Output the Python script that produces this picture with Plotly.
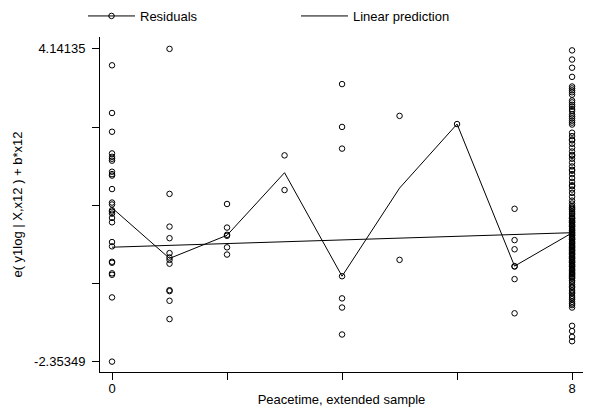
import plotly.graph_objects as go

# ---------------- data ----------------
x_tickvals = [0, 2, 4, 6, 8]
x_ticktext = ["0", "", "", "", "8"]
y_tickvals = [4.14135, 2.51764, 0.89393, -0.72978, -2.35349]
y_ticktext = ["4.14135", "", "", "", "-2.35349"]

group_x = [0, 1, 2, 3, 4, 5, 6, 7, 8]

resid_0 = [3.80, 2.81, 2.42, 1.97, 1.90, 1.86, 1.82, 1.59, 1.54, 1.51, 1.23,
           0.95, 0.91, 0.79, 0.76, 0.72, 0.63, 0.54, 0.13, 0.04, -0.28, -0.30,
           -0.52, -0.55, -1.02, -2.35349]
resid_1 = [4.14135, 1.13, 0.45, 0.21, -0.10, -0.19, -0.24, -0.32, -0.87, -0.89,
           -1.09, -1.47]
resid_2 = [0.92, 0.43, 0.28, 0.26, 0.02, -0.13]
resid_3 = [1.93, 1.21]
resid_4 = [3.41, 2.52, 2.07, -0.58, -1.04, -1.23, -1.79]
resid_5 = [2.75, -0.24]
resid_6 = [2.58]
resid_7 = [0.82, 0.17, -0.02, -0.37, -0.38, -0.64, -1.35]
resid_8 = [4.11, 3.92, 3.75, 3.56,
           3.36, 3.32, 3.28, 3.24, 3.19,
           3.07, 3.03, 2.98, 2.94, 2.89, 2.85,
           2.78, 2.74, 2.70, 2.65, 2.61, 2.57,
           2.40, 2.33, 2.26, 2.24, 2.17, 2.09, 2.01, 1.94, 1.92, 1.86, 1.78,
           1.70, 1.63, 1.61, 1.54, 1.46, 1.38, 1.31, 1.29, 1.22, 1.15, 1.07,
           0.99, 0.93,
           0.88, 0.85, 0.82, 0.80, 0.76, 0.73, 0.71, 0.67,
           0.64, 0.62, 0.61, 0.58, 0.56, 0.54, 0.53, 0.50, 0.48, 0.46, 0.45,
           0.42, 0.40, 0.38, 0.37, 0.34, 0.33, 0.31, 0.29, 0.27, 0.26, 0.23,
           0.21, 0.19, 0.18, 0.15, 0.13, 0.11, 0.10, 0.07, 0.05, 0.03, 0.02,
           -0.01, -0.03, -0.05, -0.06, -0.09, -0.11, -0.13, -0.14, -0.17,
           -0.19, -0.21, -0.22, -0.25, -0.27, -0.29, -0.30, -0.33, -0.35,
           -0.37, -0.38, -0.41, -0.43, -0.45, -0.46, -0.49, -0.51, -0.53,
           -0.54, -0.57, -0.59, -0.61, -0.63,
           -0.67, -0.70, -0.75, -0.79, -0.82, -0.87, -0.91, -0.94, -0.99,
           -1.03, -1.06, -1.11, -1.15, -1.18, -1.23,
           -1.61, -1.72, -1.84, -1.93]

# median band through the residuals (vertices)
band_y = [0.84, -0.21, 0.27, 1.57, -0.58, 1.25, 2.58, -0.37, 0.32]

# linear prediction (b*x12 + const), end points
linear_x = [0, 8]
linear_y = [0.023, 0.324]

x_title = "Peacetime, extended sample"
y_title = "e( y1log | X,x12 ) + b*x12"

# ---------------- build ----------------
resid_groups = [resid_0, resid_1, resid_2, resid_3, resid_4,
                resid_5, resid_6, resid_7, resid_8]
pts_x, pts_y = [], []
for gx, vals in zip(group_x, resid_groups):
    pts_x.extend([gx] * len(vals))
    pts_y.extend(vals)

FONT = "Liberation Sans, Arial, Helvetica, sans-serif"
FS = 13

fig = go.Figure()
fig.add_trace(go.Scatter(
    x=pts_x, y=pts_y, mode="markers", showlegend=False,
    marker=dict(symbol="circle-open", size=5.5, color="black",
                line=dict(width=1, color="black")),
))
fig.add_trace(go.Scatter(
    x=group_x, y=band_y, mode="lines", showlegend=False,
    line=dict(color="black", width=1),
))
# legend entry for the residuals (marker + connecting line)
fig.add_trace(go.Scatter(
    x=[None], y=[None], mode="lines+markers", name="Residuals",
    line=dict(color="black", width=1),
    marker=dict(symbol="circle-open", size=5.5, color="black",
                line=dict(width=1, color="black")),
))
fig.add_trace(go.Scatter(
    x=linear_x, y=linear_y, mode="lines", name="Linear prediction",
    line=dict(color="black", width=1),
))

axis_common = dict(
    showline=True, linecolor="black", linewidth=1, mirror=False,
    ticks="outside", ticklen=7, tickwidth=1, tickcolor="black",
    showgrid=False, zeroline=False,
    tickfont=dict(family=FONT, size=FS, color="black"),
)

fig.update_layout(
    width=589, height=417,
    margin=dict(l=100, r=6, t=33, b=45, pad=0),
    paper_bgcolor="white", plot_bgcolor="white",
    font=dict(family=FONT, size=FS, color="black"),
    xaxis=dict(range=[-0.209, 8.19], tickmode="array",
               tickvals=x_tickvals, ticktext=x_ticktext,
               ticklabelstandoff=-3,
               title=dict(text=x_title, standoff=0,
                          font=dict(family=FONT, size=FS, color="black")),
               **axis_common),
    yaxis=dict(range=[-2.569, 4.388], tickmode="array",
               tickvals=y_tickvals, ticktext=y_ticktext,
               ticklabelstandoff=4,
               title=dict(text=y_title, standoff=8,
                          font=dict(family=FONT, size=FS, color="black")),
               **axis_common),
    legend=dict(orientation="h", xref="container", yref="container",
                x=83 / 589, y=1 - 16 / 417, xanchor="left", yanchor="middle",
                itemwidth=47, entrywidth=151, entrywidthmode="pixels",
                bgcolor="rgba(0,0,0,0)", borderwidth=0,
                font=dict(family=FONT, size=FS, color="black")),
)

fig.write_html("out.html")
